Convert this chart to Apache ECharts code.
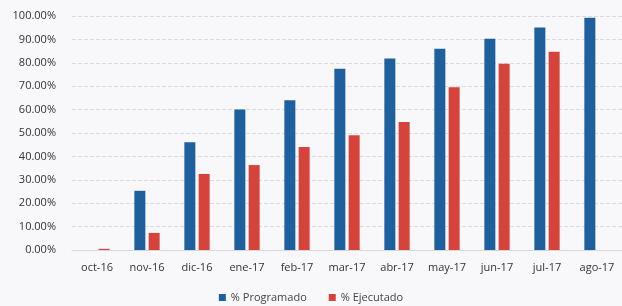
<!DOCTYPE html>
<html>
<head>
<meta charset="utf-8">
<script src="https://cdn.jsdelivr.net/npm/echarts@6/dist/echarts.min.js"></script>
<style>
  html, body { margin: 0; padding: 0; background: #f8f8fa; }
  #chart { width: 622px; height: 306px; }
</style>
</head>
<body>
<div id="chart"></div>
<script>
// meses y porcentajes
const meses = ['oct-16', 'nov-16', 'dic-16', 'ene-17', 'feb-17', 'mar-17', 'abr-17', 'may-17', 'jun-17', 'jul-17', 'ago-17'];
const programado = [0, 25.3, 46, 60, 64, 77.5, 81.8, 86, 90.3, 95.1, 99.2];
const ejecutado = [0.5, 7.3, 32.5, 36.3, 44, 49, 54.7, 69.6, 79.6, 84.7, null];
const yTicks = [0, 10, 20, 30, 40, 50, 60, 70, 80, 90, 100];

const myChart = echarts.init(document.getElementById('chart'));

let option = {
  backgroundColor: '#f8f8fa',
  textStyle: { fontFamily: '"Open Sans", "DejaVu Sans", sans-serif' },
  grid: { left: 72, right: -6, top: 16, bottom: 56 },
  legend: {
    bottom: -2,
    left: 'center',
    itemWidth: 7,
    itemHeight: 7,
    itemGap: 22,
    icon: 'rect',
    textStyle: { color: '#444', fontSize: 11 },
    data: ['% Programado', '% Ejecutado']
  },
  xAxis: {
    type: 'category',
    data: meses,
    axisLine: { lineStyle: { color: '#d8d8d8' } },
    axisTick: { show: false },
    axisLabel: { color: '#333', fontSize: 11, margin: 12 }
  },
  yAxis: {
    type: 'value',
    min: 0,
    max: 100,
    interval: 10,
    axisLine: { show: false },
    axisTick: { show: false },
    axisLabel: {
      color: '#333',
      fontSize: 11,
      margin: 16,
      formatter: v => yTicks.includes(v) ? v.toFixed(2) + '%' : ''
    },
    splitLine: { lineStyle: { color: '#dcdcdc', type: 'dashed' } }
  },
  series: [
    {
      name: '% Programado',
      type: 'bar',
      data: programado,
      barWidth: 11,
      barGap: '30%',
      itemStyle: { color: '#1e5f9e' }
    },
    {
      name: '% Ejecutado',
      type: 'bar',
      data: ejecutado,
      barWidth: 11,
      itemStyle: { color: '#d5433a' }
    }
  ]
};

myChart.setOption(option);
</script>
</body>
</html>
